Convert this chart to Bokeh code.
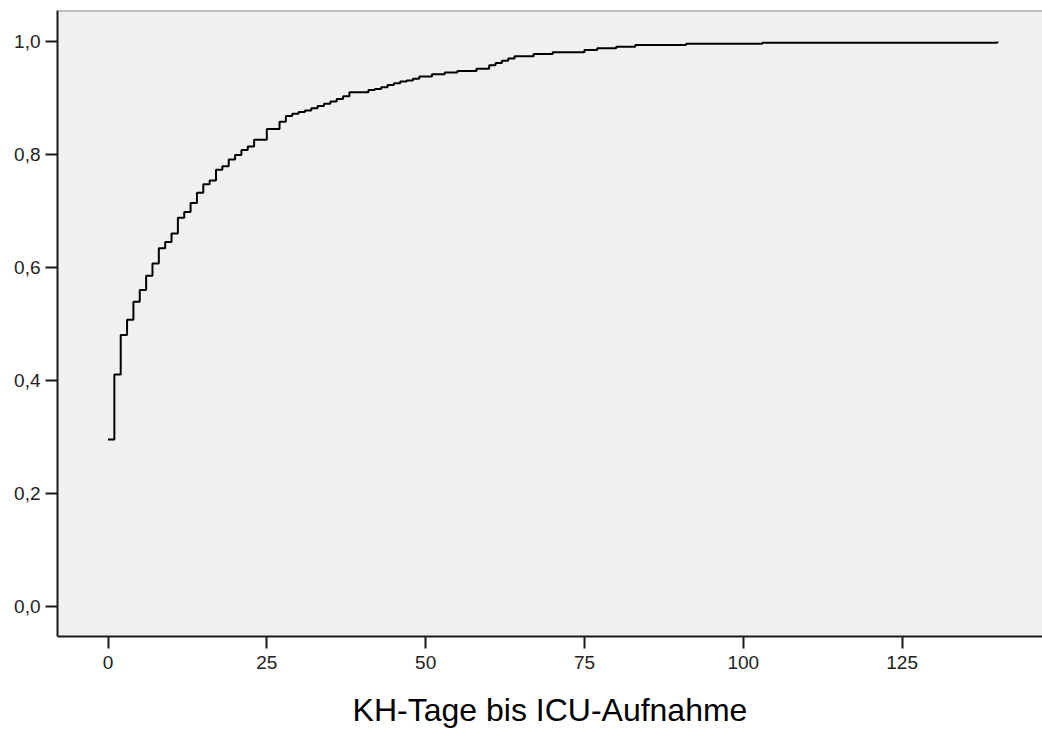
from bokeh.plotting import figure
from bokeh.models import Range1d, FixedTicker, Span
from bokeh.embed import file_html
from bokeh.resources import INLINE

days = [0, 1, 2, 3, 4, 5, 6, 7, 8, 9, 10, 11, 12, 13, 14, 15, 16, 17, 18, 19,
        20, 21, 22, 23, 25, 27, 28, 29, 30, 31, 32, 33, 34, 35, 36, 37, 38,
        41, 42, 43, 44, 45, 46, 47, 48, 49, 51, 53, 55, 58, 60, 61, 62, 63,
        64, 67, 70, 75, 77, 80, 83, 91, 103, 140]
cum_prop = [0.295, 0.410, 0.480, 0.507, 0.539, 0.560, 0.585, 0.607, 0.634, 0.645,
            0.660, 0.688, 0.698, 0.714, 0.732, 0.747, 0.754, 0.773, 0.779, 0.791,
            0.799, 0.808, 0.814, 0.826, 0.845, 0.858, 0.868, 0.872, 0.875, 0.878,
            0.882, 0.886, 0.890, 0.894, 0.898, 0.903, 0.910, 0.914, 0.916, 0.919,
            0.923, 0.926, 0.929, 0.931, 0.934, 0.938, 0.942, 0.945, 0.948, 0.952,
            0.958, 0.962, 0.966, 0.970, 0.974, 0.978, 0.981, 0.985, 0.988, 0.991,
            0.994, 0.996, 0.998, 1.0]

x_ticks = [0, 25, 50, 75, 100, 125]
y_ticks = [0.0, 0.2, 0.4, 0.6, 0.8, 1.0]
y_tick_labels = ["0,0", "0,2", "0,4", "0,6", "0,8", "1,0"]
x_label = "KH-Tage bis ICU-Aufnahme"

FONT = "Liberation Sans"

p = figure(width=1042, height=738, output_backend="svg", toolbar_location=None,
           x_range=Range1d(-7.95, 147.1), y_range=Range1d(-0.054, 1.055),
           min_border_left=57, min_border_right=0, min_border_top=10,
           min_border_bottom=102)

p.background_fill_color = "#f0f0f0"
p.border_fill_color = "white"
p.outline_line_color = None
p.grid.visible = False

p.add_layout(Span(location=1.055, dimension="width", line_color="#8c8c8c",
                  line_width=2))

p.step(days, cum_prop, mode="after", line_color="black", line_width=2)

for ax in (p.xaxis[0], p.yaxis[0]):
    ax.axis_line_color = "#1a1a1a"
    ax.axis_line_width = 2
    ax.major_tick_line_color = "#1a1a1a"
    ax.major_tick_line_width = 2
    ax.major_tick_out = 12
    ax.major_tick_in = 0
    ax.minor_tick_out = 0
    ax.minor_tick_in = 0
    ax.major_label_text_font = FONT
    ax.major_label_text_font_size = "19px"
    ax.major_label_text_color = "#222222"

p.xaxis.ticker = FixedTicker(ticks=x_ticks)
p.yaxis.ticker = FixedTicker(ticks=y_ticks)
p.yaxis.major_label_overrides = {t: s for t, s in zip(y_ticks, y_tick_labels)}
p.xaxis.major_label_standoff = 7
p.yaxis.major_label_standoff = 5

p.xaxis.axis_label = x_label
p.xaxis.axis_label_text_font = FONT
p.xaxis.axis_label_text_font_size = "32px"
p.xaxis.axis_label_text_font_style = "normal"
p.xaxis.axis_label_text_color = "black"
p.xaxis.axis_label_standoff = 20

open("out.html", "w").write(file_html(p, INLINE))
